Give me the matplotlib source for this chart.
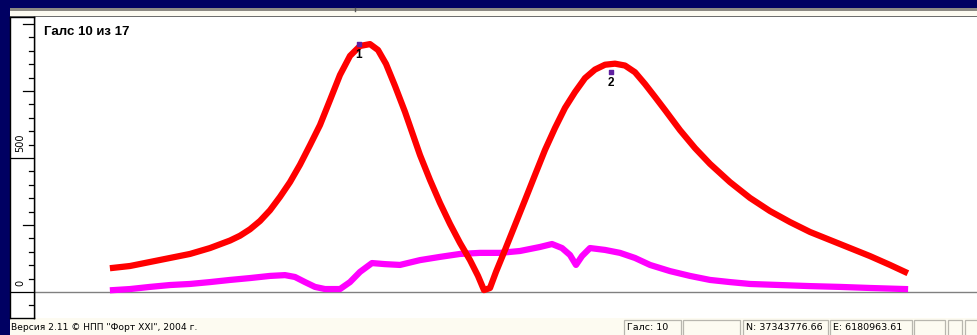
import matplotlib
matplotlib.use("Agg")
import matplotlib.pyplot as plt
from matplotlib.patches import Rectangle

plt.rcParams['font.family'] = ['Liberation Sans', 'DejaVu Sans']

# ---- profile data (position along the tack, anomaly value) ----
red_x = [79, 96, 116, 136, 156, 176, 196, 206, 216, 226, 236, 246, 256, 266, 276,
         286, 296, 306, 316, 326, 336, 344, 352, 361, 371, 386, 396, 406, 416, 426,
         436, 444, 450, 456, 462, 471, 481, 491, 501, 511, 521, 531, 541, 551, 561,
         571, 581, 591, 601, 611, 621, 631, 646, 661, 676, 696, 716, 736, 756, 776,
         796, 816, 836, 856, 871]
red_y = [90, 97, 112, 127, 142, 164, 192, 210, 234, 265, 305, 355, 410, 475, 548,
         623, 716, 810, 881, 918, 925, 903, 851, 769, 672, 511, 418, 332, 254, 183,
         119, 60, 7, 15, 75, 157, 250, 343, 437, 530, 612, 687, 746, 798, 830,
         848, 852, 845, 820, 776, 728, 679, 604, 537, 478, 410, 351, 302, 261, 224,
         194, 164, 134, 101, 75]

mag_x = [79, 96, 116, 136, 156, 176, 196, 216, 236, 251, 261, 271, 281, 291, 306,
         316, 326, 338, 351, 366, 386, 406, 426, 446, 466, 486, 506, 518, 528, 536,
         542, 548, 556, 571, 586, 601, 616, 636, 656, 676, 696, 716, 746, 776, 806,
         836, 871]
mag_y = [7, 11, 19, 26, 30, 37, 45, 52, 60, 63, 56, 37, 19, 11, 11,
         37, 75, 108, 104, 101, 119, 131, 142, 146, 146, 153, 168, 179, 164, 138,
         101, 134, 164, 157, 146, 127, 101, 78, 60, 45, 37, 30, 26, 22, 19,
         15, 11]

peak_labels = ["1", "2"]
peak_x = [325, 577]
peak_y = [925, 820]

title = "Галс 10 из 17"
footer = "Версия 2.11 © НПП \"Форт XXI\", 2004 г."
status_texts = ["Галс: 10", "", "N: 37343776.66", "E: 6180963.61", "", "", ""]

W, H = 977, 335
NAVY = "#000062"
CREAM = "#fdfbf1"

fig = plt.figure(figsize=(W / 100, H / 100), dpi=100)
fig.patch.set_facecolor(NAVY)

# window chrome drawn in pixel coordinates
bg = fig.add_axes([0, 0, 1, 1])
bg.set_xlim(0, W)
bg.set_ylim(H, 0)
bg.axis("off")
bg.add_patch(Rectangle((10, 8), W - 10, 3, color="#8c8a84", lw=0))
bg.add_patch(Rectangle((10, 10.5), W - 10, 5.5, color=CREAM, lw=0))
bg.add_patch(Rectangle((10, 15.5), W - 10, 1.6, color="#6e6e6e", lw=0))
bg.plot([355, 355], [8, 11], color="#555555", lw=1)
bg.add_patch(Rectangle((10, 318), W - 10, H - 318, color=CREAM, lw=0))
bg.text(11, 327.5, footer, fontsize=6.6, color="black", va="center", ha="left",
        family=["DejaVu Sans"])

panels = [(624, 681), (683, 740), (743, 828), (830, 912), (914, 945), (948, 962), (965, 980)]
for (x0, x1), txt in zip(panels, status_texts):
    bg.add_patch(Rectangle((x0, 320), x1 - x0, 16, facecolor=CREAM,
                           edgecolor="#b8b6ae", lw=0.9))
    if txt:
        bg.text(x0 + 3, 328, txt, fontsize=6.8, color="black", va="center",
                ha="left", family=["DejaVu Sans"])

# y scale: 0 at pixel row 292, 500 at row 158
px_per_unit = (292 - 158) / 500.0
ylo = (292 - 318) / px_per_unit
yhi = (292 - 17) / px_per_unit

# main plot area
ax = fig.add_axes([34 / W, 1 - 318 / H, (W - 34) / W, (318 - 17) / H])
ax.set_facecolor("white")
ax.set_xlim(0, W - 34)
ax.set_ylim(ylo, yhi)
ax.set_xticks([])
ax.set_yticks([])
for s in ax.spines.values():
    s.set_visible(False)
ax.spines["left"].set_visible(True)
ax.spines["left"].set_color("black")
ax.spines["left"].set_linewidth(1)

ax.axhline(0, color="#808080", lw=1, zorder=1)
ax.plot(mag_x, mag_y, color="#ff00ff", lw=4.5, solid_joinstyle="round", zorder=2)
ax.plot(red_x, red_y, color="#ff0000", lw=4.5, solid_joinstyle="round", zorder=3)
ax.scatter(peak_x, peak_y, s=6, color="#6020a0", zorder=4, marker="s")
for lbl, px, py in zip(peak_labels, peak_x, peak_y):
    ax.text(px, py - 18, lbl, fontsize=8.5, color="black", ha="center", va="top",
            fontweight="bold", zorder=5)

ax.text(10, yhi - 35, title, fontsize=9.5, fontweight="bold", color="black",
        ha="left", va="top", transform=ax.transData, family=["Liberation Sans"])

# vertical ruler on the left
rl = fig.add_axes([10 / W, 1 - 318 / H, 24 / W, (318 - 17) / H])
rl.set_facecolor("white")
rl.set_xlim(10, 34)
rl.set_ylim(ylo, yhi)
rl.set_xticks([])
rl.set_yticks([])
for s in rl.spines.values():
    s.set_color("black")
    s.set_linewidth(1)

for v in range(-50, 1001, 50):
    if v in (0, 500):
        x0 = 10
    elif v % 250 == 0:
        x0 = 23
    else:
        x0 = 29
    rl.plot([x0, 34], [v, v], color="black", lw=0.9)
for v in (0, 500):
    rl.text(20.5, v + 6 / px_per_unit, str(v), rotation=90, fontsize=7,
            ha="center", va="bottom", color="black", family=["DejaVu Sans"])

fig.savefig("out.png", dpi=100, facecolor=NAVY)
